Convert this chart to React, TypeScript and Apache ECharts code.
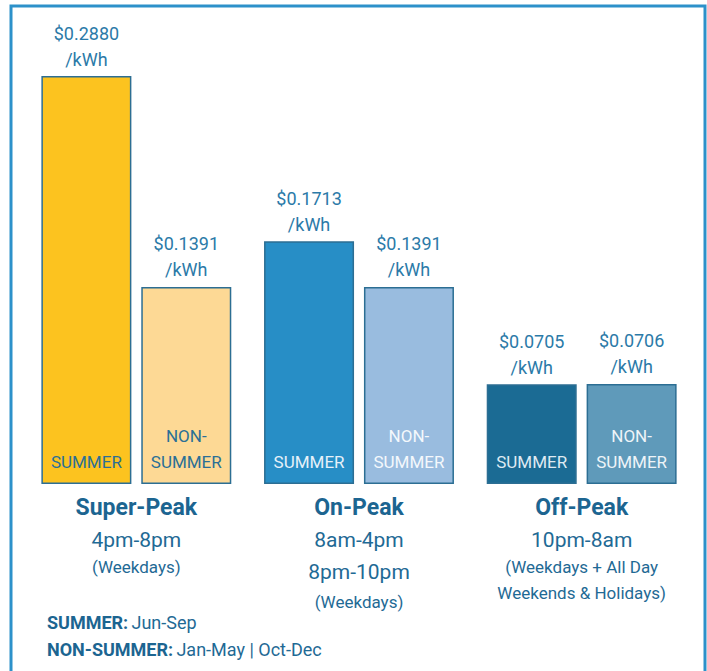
import React, { useEffect, useRef } from "react";
import * as echarts from "echarts";

const categories = ["Super-Peak", "On-Peak", "Off-Peak"];
const summerRates = [0.288, 0.1713, 0.0705];
const nonSummerRates = [0.1391, 0.1391, 0.0706];
const categorySubLines: string[][] = [
  ["4pm-8pm", "(Weekdays)"],
  ["8am-4pm", "8pm-10pm", "(Weekdays)"],
  ["10pm-8am", "(Weekdays + All Day", "Weekends & Holidays)"],
];
const summerColors = ["#fcc31f", "#278ec6", "#1b6b94"];
const nonSummerColors = ["#fdd995", "#99bcdf", "#5f9aba"];
const summerTextColors = ["#2a6f96", "#e6f1f9", "#dfeaf2"];
const nonSummerTextColors = ["#2a6f96", "#f4f8fc", "#eef4f8"];
const footnotes = [
  ["SUMMER:", "Jun-Sep"],
  ["NON-SUMMER:", "Jan-May | Oct-Dec"],
];

const FONT = "Roboto";
const TEXT = "#1f6a95";
const VALUE = "#2b7aa8";
const BORDER = "#2c6e93";

export default function App() {
  const ref = useRef<HTMLDivElement>(null);
  useEffect(() => {
    if (!ref.current) return;
    const chart = echarts.init(ref.current, null, { renderer: "svg" });
    const barWidth = 90;
    const barGap = "11%";

    const labelFormatter = (idx: number) => {
      const subs = categorySubLines[idx];
      if (idx === 0) return `{t|${categories[idx]}}\n{s|${subs[0]}}\n{w1|${subs[1]}}`;
      if (idx === 1)
        return `{t|${categories[idx]}}\n{s|${subs[0]}}\n{s2|${subs[1]}}\n{w2|${subs[2]}}`;
      return `{t|${categories[idx]}}\n{s|${subs[0]}}\n{w1|${subs[1]}}\n{w3|${subs[2]}}`;
    };

    const option: any = {
      animation: false,
      textStyle: { fontFamily: FONT },
      grid: { left: 25, right: 14, top: 59, bottom: 187 },
      xAxis: [
        {
          type: "category",
          data: categories,
          axisLine: { show: false },
          axisTick: { show: false },
          axisLabel: {
            interval: 0,
            margin: 8,
            fontFamily: FONT,
            color: TEXT,
            formatter: (v: string) => labelFormatter(categories.indexOf(v)),
            rich: {
              t: { fontSize: 23, fontWeight: "bold", lineHeight: 30, color: "#1c6591", fontFamily: FONT },
              s: { fontSize: 21, lineHeight: 36, color: TEXT, fontFamily: FONT },
              s2: { fontSize: 21, lineHeight: 28, color: TEXT, fontFamily: FONT },
              w1: { fontSize: 17, lineHeight: 18, color: TEXT, fontFamily: FONT },
              w2: { fontSize: 17, lineHeight: 32, color: TEXT, fontFamily: FONT },
              w3: { fontSize: 17, lineHeight: 34, color: TEXT, fontFamily: FONT },
            },
          },
        },
        {
          type: "category",
          data: categories,
          show: false,
        },
      ],
      yAxis: {
        type: "value",
        min: 0,
        max: 0.3,
        show: false,
        splitLine: { show: false },
      },
      series: [
        {
          name: "Summer",
          type: "bar",
          xAxisIndex: 0,
          barWidth,
          barGap,
          data: summerRates.map((v, i) => ({
            value: v,
            itemStyle: { color: summerColors[i], borderColor: BORDER, borderWidth: 1.5 },
          })),
          label: {
            show: true,
            position: "top",
            distance: 4,
            fontFamily: FONT,
            fontSize: 18,
            lineHeight: 26,
            color: VALUE,
            formatter: (p: any) => `$${Number(p.value).toFixed(4)}\n/kWh`,
          },
        },
        {
          name: "Non-Summer",
          type: "bar",
          xAxisIndex: 0,
          barWidth,
          barGap,
          data: nonSummerRates.map((v, i) => ({
            value: v,
            itemStyle: { color: nonSummerColors[i], borderColor: BORDER, borderWidth: 1.5 },
          })),
          label: {
            show: true,
            position: "top",
            distance: 4,
            fontFamily: FONT,
            fontSize: 18,
            lineHeight: 26,
            color: VALUE,
            formatter: (p: any) => `$${Number(p.value).toFixed(4)}\n/kWh`,
          },
        },
        {
          name: "SummerInside",
          type: "bar",
          xAxisIndex: 1,
          barWidth,
          barGap,
          silent: true,
          data: summerRates.map((v, i) => ({
            value: v,
            itemStyle: { color: "rgba(0,0,0,0)" },
            label: { color: summerTextColors[i] },
          })),
          label: {
            show: true,
            position: "insideBottom",
            distance: 9,
            fontFamily: FONT,
            fontSize: 17,
            lineHeight: 26,
            formatter: () => "SUMMER",
          },
        },
        {
          name: "NonSummerInside",
          type: "bar",
          xAxisIndex: 1,
          barWidth,
          barGap,
          silent: true,
          data: nonSummerRates.map((v, i) => ({
            value: v,
            itemStyle: { color: "rgba(0,0,0,0)" },
            label: { color: nonSummerTextColors[i] },
          })),
          label: {
            show: true,
            position: "insideBottom",
            distance: 9,
            fontFamily: FONT,
            fontSize: 17,
            lineHeight: 26,
            align: "center",
            formatter: () => "NON-\nSUMMER",
          },
        },
      ],
      graphic: [
        {
          type: "rect",
          shape: { x: 11, y: 6, width: 694, height: 720 },
          style: { fill: "none", stroke: "#2d91ca", lineWidth: 3 },
          silent: true,
        },
        ...footnotes.map((f, i) => ({
          type: "text",
          x: 47,
          y: 622 + i * 27,
          style: {
            text: `{b|${f[0]}} {n|${f[1]}}`,
            verticalAlign: "middle",
            rich: {
              b: { fontFamily: FONT, fontSize: 18, fontWeight: "bold", fill: "#1c6591" },
              n: { fontFamily: FONT, fontSize: 18, fill: TEXT },
            },
          },
        })),
      ],
    };
    chart.setOption(option);
    return () => chart.dispose();
  }, []);
  return (
    <div
      ref={ref}
      style={{ position: "absolute", left: 0, top: 0, width: 707, height: 671, background: "#fff" }}
    />
  );
}
